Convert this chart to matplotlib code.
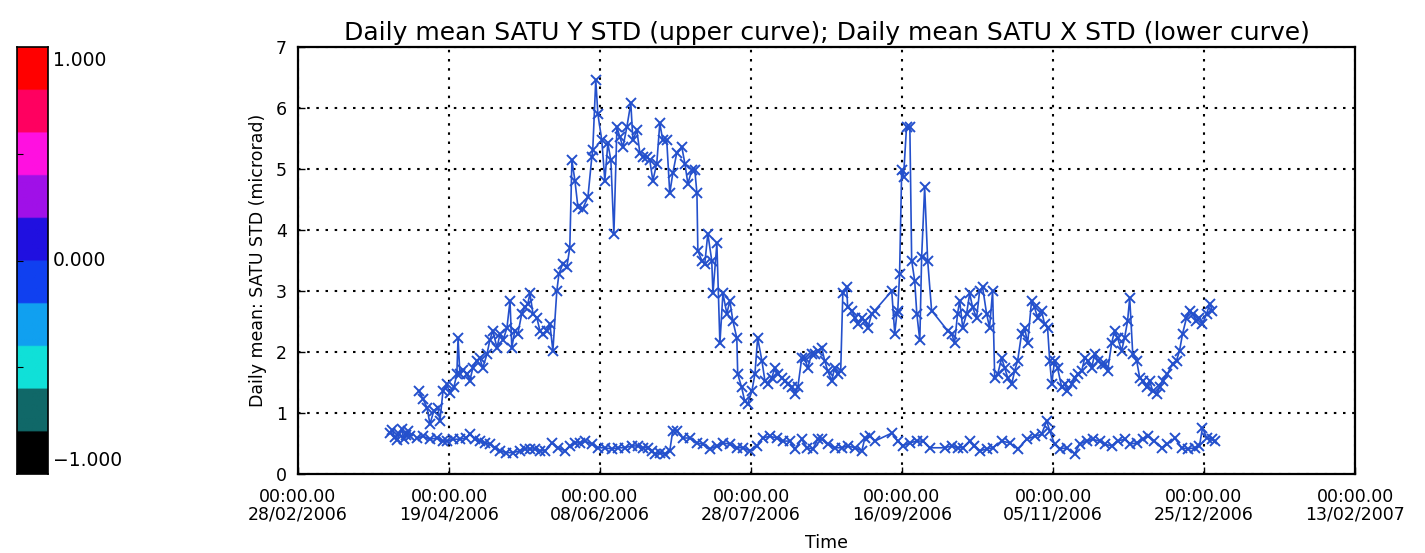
import numpy as np
import pandas as pd
import matplotlib
matplotlib.use("Agg")
import matplotlib.pyplot as plt
import matplotlib.dates as mdates
from matplotlib.colors import ListedColormap

# ---------------- data ----------------
START_DATE = "2006-02-28"
END_DATE = "2007-02-13"
TICK_DATES = ["2006-02-28", "2006-04-19", "2006-06-08", "2006-07-28",
              "2006-09-16", "2006-11-05", "2006-12-25", "2007-02-13"]

TITLE = "Daily mean SATU Y STD (upper curve); Daily mean SATU X STD (lower curve)"
YLABEL = "Daily mean: SATU STD (microrad)"
XLABEL = "Time"

# upper curve: days since START_DATE, value
y_std_days = [40.0, 41.4, 42.7, 43.7, 45.0, 46.3, 47.0, 48.0, 49.3, 50.3,
              51.6, 52.6, 53.0, 53.6, 54.6, 55.9, 56.9, 57.9, 59.2, 60.2,
              61.2, 62.6, 63.5, 64.5, 65.9, 66.9, 67.9, 69.2, 70.2, 70.8,
              71.8, 72.8, 74.1, 75.1, 76.1, 76.8, 77.8, 79.1, 80.1, 81.1,
              82.4, 83.4, 84.4, 85.7, 86.4, 87.7, 89.0, 90.0, 90.7, 91.7,
              92.7, 94.3, 96.0, 97.3, 97.6, 98.6, 99.3, 100.6, 101.6, 102.6,
              103.6, 104.6, 105.6, 106.6, 107.6, 108.9, 110.2, 110.9, 112.2, 113.2,
              114.2, 115.5, 116.5, 117.5, 118.8, 119.8, 120.8, 122.1, 123.1, 124.1,
              125.4, 127.1, 128.1, 129.1, 130.4, 131.4, 132.1, 132.4, 133.7, 134.7,
              135.7, 137.0, 137.4, 138.7, 139.7, 140.7, 142.0, 143.0, 144.0, 145.3,
              145.6, 146.9, 147.9, 148.9, 150.3, 151.3, 152.2, 153.6, 154.6, 155.6,
              156.9, 157.9, 158.9, 160.2, 161.2, 162.2, 163.5, 164.5, 165.5, 166.8,
              167.8, 168.8, 170.1, 171.1, 172.1, 173.4, 174.4, 175.4, 176.7, 177.7,
              178.7, 179.7, 180.4, 181.7, 182.0, 183.4, 184.4, 185.4, 186.7, 187.7,
              188.7, 190.0, 191.0, 196.6, 197.6, 198.3, 198.6, 199.2, 199.9, 200.5,
              201.5, 202.6, 203.2, 204.2, 204.9, 205.9, 206.5, 207.5, 208.5, 209.8,
              215.1, 216.5, 217.4, 218.4, 219.1, 220.1, 221.4, 222.4, 223.4, 224.7,
              225.7, 226.7, 228.0, 229.0, 230.0, 230.7, 231.7, 233.0, 234.0, 235.0,
              236.3, 237.3, 238.3, 239.6, 240.6, 241.6, 242.9, 243.9, 244.9, 246.2,
              247.2, 248.2, 248.9, 249.6, 250.5, 251.5, 252.9, 253.9, 254.8, 256.2,
              257.2, 258.2, 259.5, 260.5, 261.5, 262.8, 263.8, 264.8, 266.1, 267.1,
              268.1, 269.4, 270.4, 271.4, 272.7, 273.7, 274.7, 275.4, 276.4, 277.7,
              278.7, 279.7, 281.0, 282.0, 283.0, 284.3, 285.3, 286.3, 287.9, 289.6,
              290.9, 291.9, 292.9, 294.2, 295.2, 296.2, 297.5, 298.5, 299.5, 300.9,
              301.9, 302.8]
y_std_vals = [1.36, 1.23, 1.09, 0.82, 1.04, 1.09, 0.87, 1.36, 1.47, 1.32,
              1.42, 1.64, 2.23, 1.64, 1.70, 1.64, 1.53, 1.74, 1.86, 1.90,
              1.74, 1.97, 2.19, 2.35, 2.07, 2.30, 2.19, 2.40, 2.84, 2.07,
              2.35, 2.30, 2.63, 2.73, 2.79, 2.96, 2.63, 2.56, 2.35, 2.30,
              2.35, 2.46, 2.02, 3.00, 3.28, 3.45, 3.39, 3.71, 5.14, 4.81,
              4.37, 4.35, 4.54, 5.20, 5.31, 6.46, 5.90, 5.47, 4.81, 5.42,
              5.14, 3.94, 5.69, 5.52, 5.36, 5.69, 6.08, 5.47, 5.64, 5.26,
              5.20, 5.20, 5.14, 4.81, 5.09, 5.75, 5.47, 5.47, 4.60, 4.93,
              5.26, 5.36, 5.09, 4.76, 4.98, 4.98, 4.60, 3.66, 3.50, 3.45,
              3.94, 3.50, 2.96, 3.78, 2.14, 2.96, 2.63, 2.84, 2.51, 2.23,
              1.64, 1.42, 1.20, 1.15, 1.36, 1.64, 2.23, 1.86, 1.53, 1.47,
              1.58, 1.74, 1.64, 1.58, 1.53, 1.47, 1.42, 1.31, 1.42, 1.90,
              1.90, 1.74, 1.97, 1.97, 2.02, 2.07, 1.86, 1.69, 1.53, 1.74,
              1.64, 1.69, 2.96, 3.06, 2.73, 2.68, 2.56, 2.46, 2.56, 2.51,
              2.40, 2.63, 2.68, 3.00, 2.30, 2.63, 2.68, 3.28, 4.98, 4.87,
              5.69, 5.69, 3.50, 3.17, 2.63, 2.19, 3.55, 4.70, 3.50, 2.68,
              2.35, 2.30, 2.14, 2.63, 2.84, 2.40, 2.63, 2.96, 2.73, 2.56,
              3.00, 3.06, 2.63, 2.40, 3.00, 1.58, 1.64, 1.90, 1.74, 1.58,
              1.47, 1.69, 1.86, 2.30, 2.40, 2.14, 2.84, 2.73, 2.56, 2.68,
              2.46, 2.40, 1.86, 1.47, 1.86, 1.74, 1.42, 1.47, 1.36, 1.47,
              1.58, 1.64, 1.69, 1.90, 1.86, 1.74, 1.97, 1.86, 1.81, 1.81,
              1.69, 2.14, 2.35, 2.23, 2.02, 2.23, 2.51, 2.89, 1.97, 1.86,
              1.58, 1.53, 1.42, 1.53, 1.36, 1.31, 1.42, 1.53, 1.64, 1.81,
              1.86, 2.02, 2.30, 2.56, 2.68, 2.63, 2.51, 2.56, 2.46, 2.63,
              2.79, 2.68]

# lower curve: early cluster
x_std_early_days = [30.5, 31.2, 32.0, 32.8, 33.5, 34.3, 35.0, 35.8, 36.5, 37.0]
x_std_early_vals = [0.68, 0.72, 0.60, 0.55, 0.66, 0.74, 0.58, 0.64, 0.70, 0.62]

# lower curve: main run
x_std_days = [39.4, 41.4, 43.7, 46.0, 48.0, 49.3, 51.3, 53.6, 55.6, 56.9,
              58.6, 60.2, 61.9, 63.5, 65.2, 66.9, 68.8, 71.2, 73.5, 75.1,
              76.8, 78.4, 80.1, 81.8, 84.1, 86.1, 88.4, 90.0, 91.7, 93.3,
              95.0, 97.3, 99.3, 101.6, 103.9, 105.9, 108.2, 110.5, 112.5, 114.2,
              115.8, 117.2, 118.2, 119.8, 121.5, 123.1, 124.1, 125.4, 127.4, 129.7,
              132.1, 134.0, 136.4, 138.7, 140.7, 143.0, 145.3, 147.3, 149.6, 151.9,
              153.9, 156.2, 158.5, 160.5, 162.8, 164.5, 166.8, 168.5, 170.5, 172.1,
              173.4, 175.4, 177.7, 180.0, 182.0, 184.4, 186.7, 187.7, 189.3, 191.0,
              196.6, 198.6, 200.2, 202.6, 204.9, 206.9, 209.2, 214.1, 216.5, 218.4,
              220.1, 222.4, 224.0, 225.7, 228.0, 230.0, 233.0, 235.7, 238.3, 241.3,
              243.9, 246.2, 247.9, 248.9, 250.5, 252.2, 254.5, 257.2, 258.8, 261.1,
              263.1, 265.4, 267.1, 269.4, 271.4, 273.7, 275.4, 277.7, 279.7, 281.3,
              283.6, 286.0, 287.9, 290.3, 292.6, 294.6, 296.9, 298.5, 299.5, 300.9,
              302.5, 303.5]
x_std_vals = [0.59, 0.62, 0.57, 0.59, 0.54, 0.54, 0.57, 0.57, 0.59, 0.65,
              0.57, 0.54, 0.51, 0.49, 0.43, 0.38, 0.35, 0.35, 0.38, 0.41,
              0.41, 0.41, 0.38, 0.38, 0.51, 0.43, 0.38, 0.46, 0.51, 0.51,
              0.54, 0.49, 0.43, 0.43, 0.41, 0.43, 0.43, 0.46, 0.46, 0.43,
              0.43, 0.38, 0.33, 0.35, 0.33, 0.38, 0.71, 0.71, 0.59, 0.59,
              0.51, 0.49, 0.41, 0.46, 0.51, 0.49, 0.43, 0.43, 0.38, 0.46,
              0.59, 0.62, 0.59, 0.54, 0.54, 0.41, 0.57, 0.43, 0.41, 0.57,
              0.57, 0.49, 0.43, 0.43, 0.46, 0.43, 0.38, 0.59, 0.62, 0.54,
              0.67, 0.54, 0.46, 0.51, 0.54, 0.54, 0.43, 0.43, 0.46, 0.43,
              0.43, 0.54, 0.46, 0.38, 0.41, 0.43, 0.54, 0.51, 0.41, 0.57,
              0.62, 0.65, 0.87, 0.71, 0.49, 0.41, 0.43, 0.33, 0.49, 0.54,
              0.57, 0.54, 0.49, 0.46, 0.54, 0.57, 0.49, 0.51, 0.57, 0.62,
              0.54, 0.43, 0.49, 0.59, 0.43, 0.41, 0.43, 0.46, 0.76, 0.59,
              0.57, 0.54]

CB_COLORS = ["#000000", "#106868", "#10E0D8", "#10A0F0", "#1040F0",
             "#2010E0", "#A010E8", "#FF10E0", "#FF0060", "#FF0000"]
CB_LABELS = ["1.000", "0.000", "\u22121.000"]

# ---------------- plot ----------------
W, H = 1425, 553
fig = plt.figure(figsize=(W / 100, H / 100), dpi=100)
plt.rcParams["font.family"] = ["DejaVu Sans"]

line_color = "#2450cc"
start = pd.Timestamp(START_DATE)

def to_dates(days):
    return start + pd.to_timedelta(np.asarray(days), unit="D")

style = dict(color=line_color, lw=1.2, marker="x", ms=6.5, mew=1.4)
ax = fig.add_axes([298 / W, 1 - 474 / H, 1057 / W, 427 / H])
ax.plot(to_dates(y_std_days), y_std_vals, **style)
ax.plot(to_dates(x_std_early_days), x_std_early_vals, **style)
ax.plot(to_dates(x_std_days), x_std_vals, **style)

ax.set_xlim(pd.Timestamp(START_DATE), pd.Timestamp(END_DATE))
ax.set_ylim(0, 7)
ax.set_yticks(range(0, 8))
ax.set_xticks([pd.Timestamp(d) for d in TICK_DATES])
ax.xaxis.set_major_formatter(mdates.DateFormatter("%H:%M.%S\n%d/%m/%Y"))
ax.grid(True, color="black", linestyle=(0, (1.2, 3.2)), lw=1.5)
ax.tick_params(direction="in", length=5, width=1, labelsize=12.5, colors="black")
ax.tick_params(axis="x", pad=10)
ax.tick_params(axis="y", pad=8)
for lbl in ax.get_xticklabels():
    lbl.set_linespacing(1.0)
for s in ax.spines.values():
    s.set_linewidth(1.6)
ax.set_title(TITLE, fontsize=18, pad=5)
ax.set_ylabel(YLABEL, fontsize=12.5, labelpad=6)
ax.set_xlabel(XLABEL, fontsize=12.5, labelpad=7)

# colour bar
cax = fig.add_axes([17 / W, 1 - 474 / H, 31 / W, 427 / H])
cmap = ListedColormap(CB_COLORS)
grad = np.linspace(-1, 1, 200).reshape(-1, 1)
cax.imshow(grad, aspect="auto", cmap=cmap, origin="lower", extent=[0, 1, -1, 1],
           vmin=-1, vmax=1)
cax.set_xticks([])
cax.set_yticks([-0.5, 0, 0.5])
cax.tick_params(axis="y", direction="in", length=4, labelleft=False)
for s in cax.spines.values():
    s.set_linewidth(1.2)
cax.text(1.15, 0.99, CB_LABELS[0], transform=cax.transAxes, fontsize=13.5,
         va="top", ha="left")
cax.text(1.15, 0.5, CB_LABELS[1], transform=cax.transAxes, fontsize=13.5,
         va="center", ha="left")
cax.text(1.15, 0.01, CB_LABELS[2], transform=cax.transAxes, fontsize=13.5,
         va="bottom", ha="left")

fig.savefig("out.png", dpi=100)
